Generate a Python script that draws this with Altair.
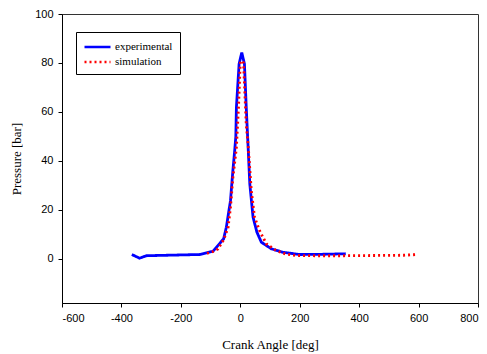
import altair as alt
import pandas as pd

exp_angle = [-365, -339, -316, -137, -92, -56, -47, -33, -25, -19, -15, -13, -4, 5, 14, 20, 27, 32, 43, 56, 71, 105, 144, 200, 280, 355]
exp_pressure = [1.8, 0.3, 1.3, 1.8, 3.1, 8.2, 12.9, 23.8, 36, 44, 50, 62, 79.6, 84.3, 79.6, 62, 44, 30.6, 17, 10.9, 6.8, 4.1, 2.7, 1.8, 1.9, 2.1]

sim_angle = [-112, -92, -75, -56, -41, -33, -25, -13, -6, 0, 6, 11, 20, 27, 37, 48, 65, 88, 121, 153, 189, 250, 350, 450, 550, 598]
sim_pressure = [2.3, 3.0, 4.1, 7.8, 12.9, 21, 33, 45.5, 62, 80, 81, 80, 55, 45.5, 28, 17, 11.5, 6.1, 3.4, 2.0, 1.4, 1.3, 1.3, 1.4, 1.5, 1.8]

series_names = ["experimental", "simulation"]
x_ticks = [-600, -400, -200, 0, 200, 400, 600, 800]
y_ticks = [0, 20, 40, 60, 80, 100]

df = pd.concat([
    pd.DataFrame({"angle": exp_angle, "pressure": exp_pressure, "series": series_names[0], "order": range(len(exp_angle))}),
    pd.DataFrame({"angle": sim_angle, "pressure": sim_pressure, "series": series_names[1], "order": range(len(sim_angle))}),
])

chart = alt.Chart(df).mark_line(strokeWidth=2.8).encode(
    x=alt.X("angle:Q", title="Crank Angle [deg]",
            scale=alt.Scale(domain=[-600, 800], nice=False, zero=False),
            axis=alt.Axis(values=x_ticks, titlePadding=15, labelPadding=5,
                          labelExpr="'' + datum.value")),
    y=alt.Y("pressure:Q", title="Pressure [bar]",
            scale=alt.Scale(domain=[-18, 100], nice=False, zero=False),
            axis=alt.Axis(values=y_ticks, titlePadding=11, labelPadding=5,
                          labelExpr="'' + datum.value")),
    color=alt.Color("series:N", title=None,
                    scale=alt.Scale(domain=series_names, range=["#0000ff", "#ff0000"])),
    strokeDash=alt.StrokeDash("series:N", title=None,
                              scale=alt.Scale(domain=series_names, range=[[1, 0], [2, 3]])),
    order="order:Q",
).properties(
    width=416, height=289,
    autosize=alt.AutoSizeParams(type="none"),
    padding={"left": 62, "top": 14, "right": 9, "bottom": 51},
).configure_view(
    stroke="#333333", strokeWidth=1
).configure_axis(
    grid=False, domainColor="#000000", tickColor="#000000", tickSize=4,
    labelFont="Liberation Sans", labelFontSize=11, labelColor="#000000",
    titleFont="Liberation Serif", titleFontSize=13, titleFontWeight="normal", titleColor="#000000",
).configure_legend(
    orient="none", legendX=14, legendY=18, padding=7,
    strokeColor="#000000", fillColor="#ffffff",
    symbolType="M-1,0L3,0", symbolSize=169, symbolStrokeWidth=2.5,
    labelFont="Liberation Serif", labelFontSize=11, labelColor="#000000",
    labelOffset=16, rowPadding=2,
)

chart.save("out.html", embed_options={"renderer": "svg", "actions": False})
